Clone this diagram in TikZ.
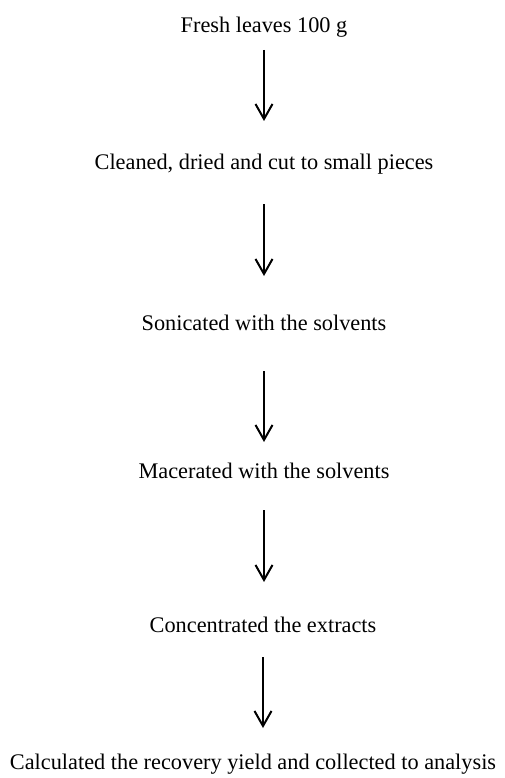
\documentclass[tikz,border=0pt]{standalone}
\usepackage{fontspec}
\setmainfont{Liberation Serif}
\usepackage{tikz}
\usetikzlibrary{arrows.meta,positioning}

\tikzset{
    steptext/.style={anchor=base, inner sep=0pt, font=\fontsize{22.3}{26}\selectfont},
    flow/.style={-{Straight Barb[length=15pt, width=17pt]}, line width=2pt}
}

\begin{document}
\begin{tikzpicture}[x=1pt, y=-1pt]
    \useasboundingbox (0,0) rectangle (505,778);
    % Steps
    \node[steptext] (fresh)   at (264,33)  {Fresh leaves 100 g};
    \node[steptext] (clean)   at (264,170) {Cleaned, dried and cut to small pieces};
    \node[steptext] (sonic)   at (264,330) {Sonicated with the solvents};
    \node[steptext] (macer)   at (264,478) {Macerated with the solvents};
    \node[steptext] (concent) at (263,632) {Concentrated the extracts};
    \node[steptext] (calc)    at (253,769) {Calculated the recovery yield and collected to analysis};
    % Arrows
    \draw[flow] ([yshift=-17pt]fresh.base)   -- ([yshift=49pt]clean.base);
    \draw[flow] ([yshift=-34pt]clean.base)   -- ([yshift=54pt]sonic.base);
    \draw[flow] ([yshift=-41pt]sonic.base)   -- ([yshift=36pt]macer.base);
    \draw[flow] ([yshift=-32pt]macer.base)   -- ([yshift=50pt]macer.base |- concent.base);
    \draw[flow] ([yshift=-25pt]concent.base) -- ([yshift=41pt]concent.base |- calc.base);
\end{tikzpicture}
\end{document}
